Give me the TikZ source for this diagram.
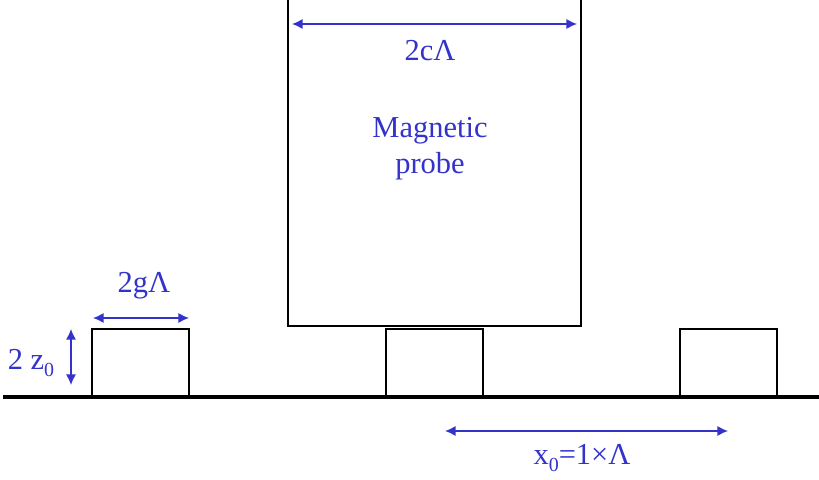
\documentclass[tikz,border=0pt]{standalone}
\usepackage{fontspec}
\setmainfont{Liberation Serif}
\usepackage{tikz}
\usetikzlibrary{arrows.meta}
\usepackage{xcolor}
\definecolor{dimblue}{RGB}{51,51,204}
\newcommand{\lowsub}[1]{\raisebox{-0.25em}{\fontsize{17}{20}\selectfont #1}}

\begin{document}
\begin{tikzpicture}[x=0.03cm, y=0.03cm,
    box/.style={draw=black, line width=1.7pt},
    dimline/.style={dimblue, line width=1.1pt, {Latex[length=9pt,width=8.5pt]}-{Latex[length=9pt,width=8.5pt]}},
    dimlabel/.style={text=dimblue, font=\fontsize{26}{31}\selectfont, inner sep=0pt, align=center}]

        \useasboundingbox (0,0) rectangle (819,479);

        % Ground line
        \draw[line width=2.6pt] (3,82) -- (819,82);

        % Magnetic probe (runs off the top)
        \draw[box] (288,479) -- (288,153) -- (581,153) -- (581,479);
        \node[dimlabel] (probe) at (430,330) {Magnetic\\probe};

        % Three small blocks on the ground
        \draw[box] (92,82) rectangle (189,150);
        \draw[box] (386,82) rectangle (483,150);
        \draw[box] (680,82) rectangle (777,150);

        % Dimension end points
        \coordinate (cL) at (292,455);
        \coordinate (cR) at (577,455);
        \coordinate (gL) at (93,161);
        \coordinate (gR) at (189,161);
        \coordinate (zT) at (71,150);
        \coordinate (zB) at (71,94);
        \coordinate (xL) at (445,48);
        \coordinate (xR) at (728,48);

        % Dimension arrows
        \draw[dimline] (cL) -- (cR);
        \draw[dimline] (gL) -- (gR);
        \draw[dimline] (zT) -- (zB);
        \draw[dimline] (xL) -- (xR);

        % Dimension labels
        \node[dimlabel] (clabel) at (430,428) {2cΛ};
        \node[dimlabel] (glabel) at (144,193) {2gΛ};
        \node[dimlabel] (zlabel) at (31,116) {2 z\lowsub{0}};
        \node[dimlabel] (xlabel) at (582,21) {x\lowsub{0}=1×Λ};

    \end{tikzpicture}
\end{document}
